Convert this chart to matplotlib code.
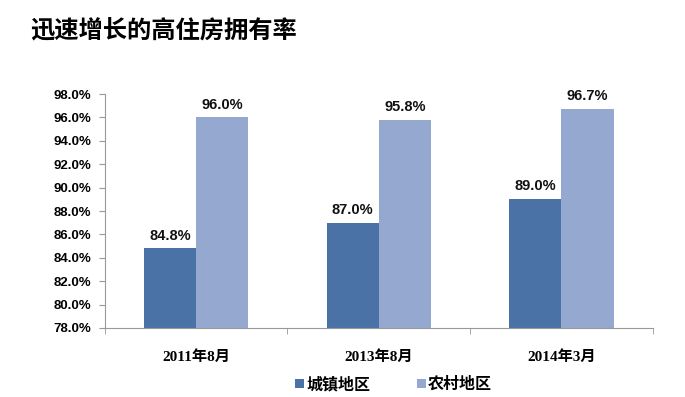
import matplotlib.pyplot as plt
import numpy as np
from matplotlib.ticker import FuncFormatter, MultipleLocator

plt.rcParams['font.family'] = ['Noto Sans CJK SC', 'DejaVu Sans']

# data
periods = ["2011年8月", "2013年8月", "2014年3月"]
urban = [84.8, 87.0, 89.0]
rural = [96.0, 95.8, 96.7]
series_names = ["城镇地区", "农村地区"]

dark = "#4A72A6"
light = "#94A8D0"

fig = plt.figure(figsize=(6.85, 3.97), dpi=100)
ax = fig.add_axes([0.153, 0.174, 0.8, 0.589])

x = np.arange(len(periods))
w = 0.285
b1 = ax.bar(x - w / 2, urban, w, color=dark, label=series_names[0])
b2 = ax.bar(x + w / 2, rural, w, color=light, label=series_names[1])

# value labels
for bars, vals in ((b1, urban), (b2, rural)):
    for r, v in zip(bars, vals):
        ax.text(r.get_x() + r.get_width() / 2, v + 0.5, "%.1f%%" % v,
                ha="center", va="bottom", fontsize=10.5, fontweight="bold",
                family=["Liberation Sans", "DejaVu Sans"], color="#111111")

ax.set_ylim(78, 98)
ax.set_xlim(-0.5, len(periods) - 0.5)
ax.yaxis.set_major_locator(MultipleLocator(2))
ax.yaxis.set_major_formatter(FuncFormatter(lambda v, p: "%.1f%%" % v))
for lab in ax.get_yticklabels():
    lab.set_fontweight("bold")
    lab.set_fontsize(9.5)
    lab.set_family(["Liberation Sans", "DejaVu Sans"])

ax.set_xticks(x)
ax.set_xticklabels(periods, fontsize=11, fontweight="bold",
                   family=["Liberation Serif", "Noto Sans CJK SC"])
ax.set_xticks(np.arange(len(periods) + 1) - 0.5, minor=True)
ax.tick_params(axis="x", which="major", length=0, pad=16)
ax.tick_params(axis="x", which="minor", length=4, color="#999999", direction="out")
ax.tick_params(axis="y", length=4, color="#999999", direction="out", pad=6)

for s in ("top", "right"):
    ax.spines[s].set_visible(False)
ax.spines["left"].set_color("#999999")
ax.spines["bottom"].set_color("#999999")

leg = ax.legend(loc="upper center", bbox_to_anchor=(0.527, -0.145), ncol=2,
                frameon=False, handlelength=0.55, handleheight=0.55,
                columnspacing=2.9, handletextpad=0.15,
                prop={"size": 11.5, "weight": "bold"})

fig.text(0.044, 0.922, "迅速增长的高住房拥有率", fontsize=17.5, fontweight="bold",
         ha="left", va="center")

fig.savefig("out.png", dpi=100)
